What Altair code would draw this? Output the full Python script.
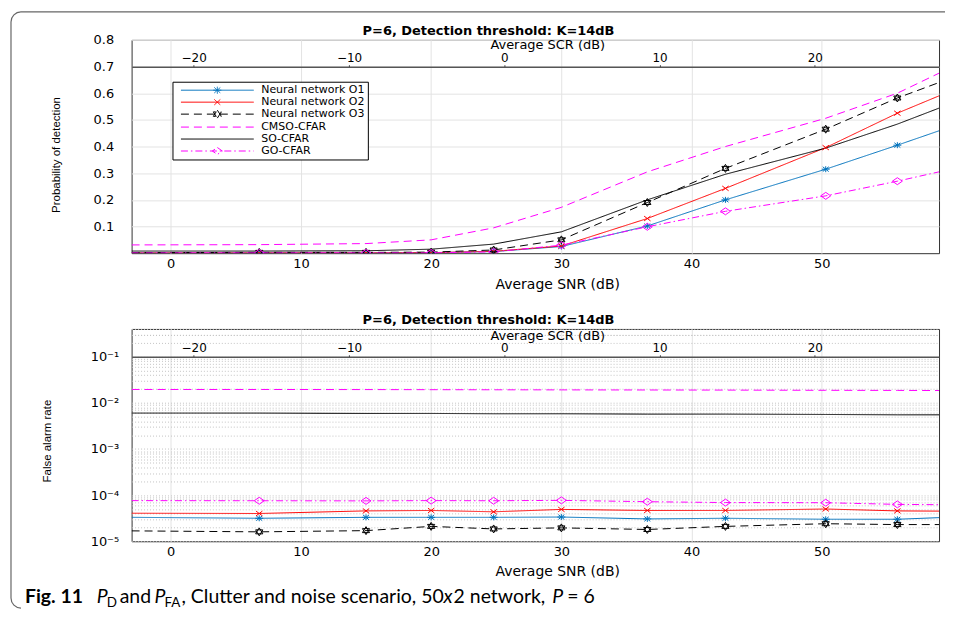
import altair as alt
import pandas as pd

# ---------------- data ----------------
SERIES = ["Neural network O1", "Neural network O2", "Neural network O3",
          "CMSO-CFAR", "SO-CFAR", "GO-CFAR"]
COLORS = ["#0072BD", "#FF0000", "#000000", "#FF00FF", "#000000", "#FF00FF"]
DASHES = [[1, 0], [1, 0], [8, 5], [8, 5], [1, 0], [7, 3, 1.5, 3]]

SNR = [-3.0, 6.8, 15.0, 20.0, 24.8, 30.0, 36.6, 42.6, 50.3, 55.8, 59.0]
SCR_TICKS = [-20, -10, 0, 10, 20]
SNR_TICKS = [0, 10, 20, 30, 40, 50]
PD_TICKS = [0.1, 0.2, 0.3, 0.4, 0.5, 0.6, 0.7, 0.8]

# probability of detection
PD_O1 = [0.001, 0.001, 0.001, 0.002, 0.006, 0.025, 0.102, 0.200, 0.315, 0.405, 0.459]
PD_O2 = [0.001, 0.001, 0.001, 0.002, 0.007, 0.027, 0.130, 0.243, 0.396, 0.525, 0.590]
PD_O3 = [0.002, 0.003, 0.003, 0.004, 0.012, 0.050, 0.190, 0.318, 0.465, 0.582, 0.640]
PD_CMSO = [0.031, 0.032, 0.036, 0.050, 0.095, 0.172, 0.305, 0.400, 0.506, 0.600, 0.675]
PD_SO = [0.008, 0.008, 0.009, 0.015, 0.034, 0.080, 0.200, 0.296, 0.394, 0.484, 0.544]
PD_GO = [0.001, 0.001, 0.001, 0.001, 0.005, 0.030, 0.099, 0.157, 0.215, 0.270, 0.305]

# false alarm rate
FA_O1 = [3.3e-5, 3.15e-5, 3.3e-5, 3.3e-5, 3.3e-5, 3.35e-5, 3.05e-5, 3.15e-5, 3.0e-5, 3.0e-5, 3.25e-5]
FA_O2 = [4.05e-5, 4.0e-5, 4.55e-5, 4.65e-5, 4.35e-5, 4.9e-5, 4.65e-5, 4.65e-5, 5.0e-5, 4.55e-5, 4.5e-5]
FA_O3 = [1.68e-5, 1.6e-5, 1.7e-5, 2.1e-5, 1.85e-5, 1.95e-5, 1.8e-5, 2.1e-5, 2.4e-5, 2.3e-5, 2.3e-5]
FA_CMSO = [0.0195, 0.0195, 0.0194, 0.0193, 0.0192, 0.0191, 0.0190, 0.0189, 0.0187, 0.0186, 0.0185]
FA_SO = [0.0060, 0.0060, 0.0059, 0.0059, 0.0058, 0.0058, 0.0057, 0.0057, 0.0056, 0.0055, 0.0055]
FA_GO = [7.6e-5, 7.55e-5, 7.5e-5, 7.6e-5, 7.55e-5, 7.7e-5, 7.2e-5, 6.9e-5, 6.85e-5, 6.3e-5, 6.2e-5]

FA_TICKS = [k * 10.0 ** e for e in range(-5, 0) for k in range(1, 10)] + [0.2, 0.3, 0.4]

# marker glyphs (unit square paths) for series drawn with markers
MARK_SERIES = ["Neural network O1", "Neural network O2", "Neural network O3", "GO-CFAR"]
MARK_PATHS = ["M-1,0H1M0,-0.75V0.75M-0.75,-0.6L0.75,0.6M-0.75,0.6L0.75,-0.6",
              "M-0.8,-0.6L0.8,0.6M-0.8,0.6L0.8,-0.6",
              "M0,-1L0.9,0.5L-0.9,0.5ZM0,1L0.9,-0.5L-0.9,-0.5Z",
              "M0,-0.7L1,0L0,0.7L-1,0Z"]
MARK_SIZES = [64, 64, 64, 100]
MARK_COLORS = ["#0072BD", "#FF0000", "#000000", "#FF00FF"]

# legend symbols: line segment + marker glyph
LEG_PATHS = ["M0,0H14.6M6.5,0H8.1M7.3,-0.7V0.7M6.7,-0.55L7.9,0.55M6.7,0.55L7.9,-0.55",
             "M0,0H14.6M6.7,-0.55L7.9,0.55M6.7,0.55L7.9,-0.55",
             "M0,0H14.6M7.3,-0.8L8.1,0.45L6.5,0.45ZM7.3,0.8L8.1,-0.45L6.5,-0.45Z",
             "M0,0H14.6",
             "M0,0H14.6",
             "M0,0H14.6M7.3,-0.7L8.3,0L7.3,0.7L6.3,0Z"]

TITLE = "P=6, Detection threshold: K=14dB"


def long_frame(lists):
    rows = []
    for name, vals in zip(SERIES, lists):
        for i, (x, v) in enumerate(zip(SNR, vals)):
            rows.append({"snr": x, "val": v, "series": name, "idx": i})
    return pd.DataFrame(rows)


PD_DF = long_frame([PD_O1, PD_O2, PD_O3, PD_CMSO, PD_SO, PD_GO])
FA_DF = long_frame([FA_O1, FA_O2, FA_O3, FA_CMSO, FA_SO, FA_GO])
ONE = pd.DataFrame({"k": [0]})

W = 810
H_TOP = 214
H_BOT = 213
BASE = "DejaVu Sans"
NARROW = "Liberation Sans Narrow, Liberation Sans"

XSCALE = alt.Scale(domain=[-3, 59], nice=False, zero=False)
SCRSCALE = alt.Scale(domain=[-24, 28], nice=False, zero=False)


def leg():
    return alt.Legend(title=None, orient="none", legendX=41, legendY=42,
                      direction="vertical", symbolSize=100, symbolStrokeWidth=1,
                      labelFont=BASE, labelFontSize=11, labelColor="black",
                      labelOffset=75, labelLimit=400, strokeColor="black",
                      fillColor="white", padding=3, rowPadding=0, cornerRadius=0)


def txt(s, x, y, size=19.5, weight="normal", style="normal", font="Lato",
        align="left", baseline="alphabetic"):
    return alt.Chart(ONE).mark_text(
        text=s, font=font, fontSize=size, fontWeight=weight, fontStyle=style,
        align=align, baseline=baseline, color="black"
    ).encode(x=alt.value(x), y=alt.value(y))


def panel(df, yscale, yaxis, x_title_y, scr_offset, scr_title_y, with_legend):
    xaxis = alt.Axis(values=SNR_TICKS, title="Average SNR (dB)", grid=True,
                     labelPadding=4, titleX=427, titleY=x_title_y,
                     titleBaseline="middle", titleAlign="center")
    X = alt.X("snr:Q", scale=XSCALE, axis=xaxis)
    Y = alt.Y("val:Q", scale=yscale, axis=yaxis)
    color = alt.Color("series:N", scale=alt.Scale(domain=SERIES, range=COLORS),
                      legend=leg() if with_legend else None)
    dash = alt.StrokeDash("series:N", scale=alt.Scale(domain=SERIES, range=DASHES),
                          legend=leg() if with_legend else None)
    lines = alt.Chart(df).mark_line(strokeWidth=1, clip=True).encode(
        x=X, y=Y, color=color, strokeDash=dash)
    layers = [lines]
    mk = df[(df["idx"] >= 1) & (df["idx"] <= 9)]
    for name, path, size, col in zip(MARK_SERIES, MARK_PATHS, MARK_SIZES, MARK_COLORS):
        layers.append(
            alt.Chart(mk).transform_filter(alt.datum.series == name).mark_point(
                shape=path, size=size, filled=False, strokeWidth=1, color=col,
                opacity=1, clip=True
            ).encode(x=X, y=Y)
        )
    if with_legend:
        dummy = pd.DataFrame({"snr": [-100.0] * 6, "val": [0.4] * 6, "series": SERIES})
        layers.append(
            alt.Chart(dummy).mark_point(filled=False, strokeWidth=1, size=100,
                                        opacity=1, clip=True).encode(
                x=X, y=Y, color=color,
                shape=alt.Shape("series:N", scale=alt.Scale(domain=SERIES, range=LEG_PATHS),
                                legend=leg()),
            )
        )
    inner = alt.layer(*layers)
    scr = alt.Chart(pd.DataFrame({"scr": [-24, 28]})).mark_point(opacity=0).encode(
        x=alt.X("scr:Q", scale=SCRSCALE,
                axis=alt.Axis(orient="top", offset=scr_offset, values=SCR_TICKS,
                              title="Average SCR (dB)", grid=False, domain=True,
                              domainColor="#555555", domainWidth=1.5, ticks=True,
                              tickSize=2, tickColor="#333333", labelPadding=0,
                              labelFontSize=12, titleFontSize=13,
                              titleX=417, titleY=scr_title_y, titleBaseline="middle",
                              titleAlign="center"))
    )
    title = txt(TITLE, 358, -5, size=13, weight="bold", font=BASE, align="center")
    return inner, scr, title


# ---------------- top panel ----------------
top_y = alt.Axis(values=PD_TICKS, format=".1f", title="Probability of detection",
                 titleFont=NARROW, titleFontSize=11.5, titleAngle=270, titleX=-75,
                 titleY=115, titleAlign="center", titleBaseline="middle",
                 labelPadding=18, grid=True)
t_inner, t_scr, t_title = panel(PD_DF, alt.Scale(domain=[0, 0.8], nice=False, zero=True),
                                top_y, 31, -27, -22.5, True)
top = alt.layer(t_inner, t_scr, t_title).resolve_scale(x="independent").properties(
    width=W, height=H_TOP)

# ---------------- bottom panel ----------------
lab = ("abs(log(datum.value)/LN10 - round(log(datum.value)/LN10)) < 0.001 ? "
       "'10' + ['\u207b\u2075','\u207b\u2074','\u207b\u00b3','\u207b\u00b2','\u207b\u00b9']"
       "[round(log(datum.value)/LN10) + 5] : ''")
bot_y = alt.Axis(values=FA_TICKS, labelExpr=lab, title="False alarm rate",
                 titleFont=NARROW, titleFontSize=11.5, titleAngle=270, titleX=-84,
                 titleY=112, titleAlign="center", titleBaseline="middle",
                 labelPadding=13, grid=True, gridDash=[1, 2], gridColor="#c4c4c4")
b_inner, b_scr, b_title = panel(FA_DF, alt.Scale(type="log", domain=[1e-5, 0.4], nice=False),
                                bot_y, 30, -28, -21.5, False)

FRAME = "#666666"
FL = -121   # frame left edge (relative to lower plot)
FT = -318   # frame top edge
FB = 270    # end of straight left edge
frame = [
    alt.Chart(ONE).mark_rule(color=FRAME, strokeWidth=1.2).encode(
        x=alt.value(FL + 10), x2=alt.value(816), y=alt.value(FT)),
    alt.Chart(ONE).mark_rule(color=FRAME, strokeWidth=1.2).encode(
        x=alt.value(FL), y=alt.value(FT + 10), y2=alt.value(FB)),
    alt.Chart(ONE).mark_arc(radius=10, radius2=10, theta=4.7124, theta2=6.2832,
                            stroke=FRAME, strokeWidth=1.2, fillOpacity=0).encode(
        x=alt.value(FL + 10), y=alt.value(FT + 10)),
    alt.Chart(ONE).mark_arc(radius=10, radius2=10, theta=3.1416, theta2=4.7124,
                            stroke=FRAME, strokeWidth=1.2, fillOpacity=0).encode(
        x=alt.value(FL + 10), y=alt.value(FB)),
]
caption = [
    txt("Fig. 11", -107, 275, weight="bold"),
    txt("P", -35, 275, style="italic"),
    txt("D", -25, 279, size=13.5),
    txt("and", -12, 275),
    txt("P", 23, 275, style="italic"),
    txt("FA", 33, 279, size=13.5),
    txt(", Clutter and noise scenario, 50", 50, 275),
    txt("x", 313, 275, style="italic"),
    txt("2 network,", 323, 275),
    txt("P", 422, 275, style="italic"),
    txt("= 6", 437, 275),
]
bottom = alt.layer(b_inner, b_scr, b_title, *frame, *caption).resolve_scale(
    x="independent").properties(width=W, height=H_BOT)

chart = alt.vconcat(top, bottom, spacing=76, bounds="flush").resolve_scale(
    color="independent", strokeDash="independent", shape="independent"
).properties(
    padding={"left": 0, "top": 0, "right": 0, "bottom": 0}
).configure_view(stroke="#333333", strokeWidth=1).configure_axis(
    labelFont=BASE, labelFontSize=13, labelColor="black", titleFont=BASE,
    titleFontSize=14, titleFontWeight="normal", titleColor="black",
    gridColor="#e3e3e3", gridWidth=1, domain=False, ticks=False
)

chart.save("out.html", embed_options={"renderer": "svg", "actions": False})
